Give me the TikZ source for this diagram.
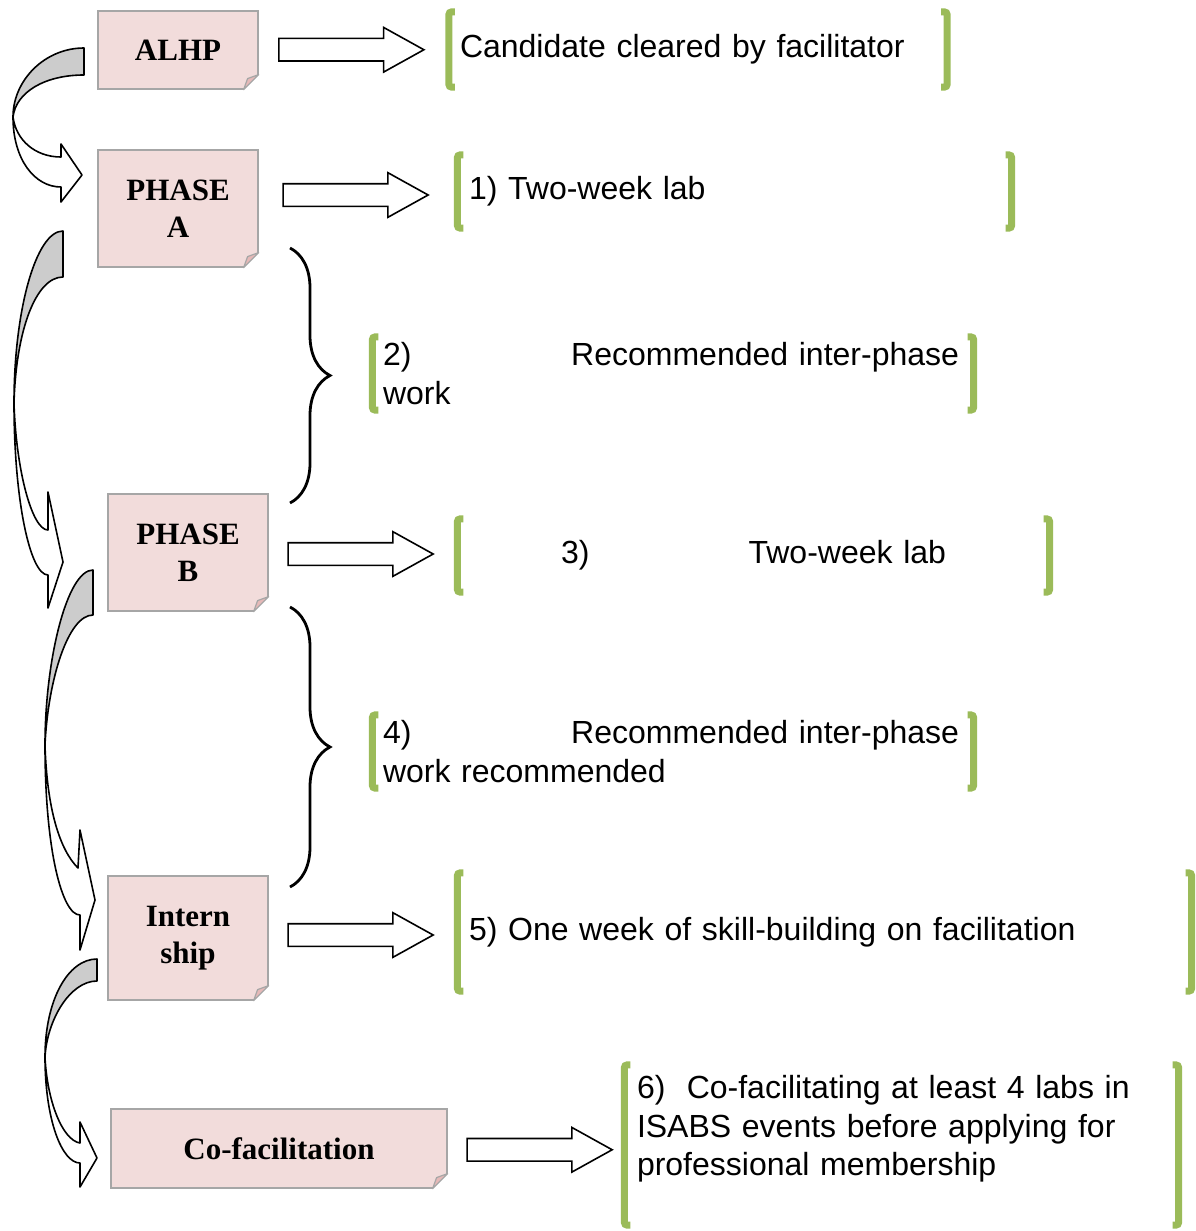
\documentclass[tikz,border=0pt]{standalone}
\usepackage{fontspec}
\newfontfamily\boxfont{Liberation Serif}
\newfontfamily\txtfont{Liberation Sans}
\usepackage{xcolor}
\usepackage{tikz}
\usetikzlibrary{
	shapes,arrows,decorations.pathreplacing
}

\definecolor{boxpink}{HTML}{F2DCDB}
\definecolor{foldpink}{HTML}{E6B9B8}
\definecolor{boxline}{HTML}{A6A6A6}
\definecolor{bracketgreen}{HTML}{9BBB59}
\definecolor{backgrey}{HTML}{CCCCCC}

% folded corner at the bottom right of a stage box
\newcommand{\foldcorner}[1]{%
	\fill[white] ([xshift=-17pt,yshift=-2pt]#1.south east) -- ([xshift=2pt,yshift=-2pt]#1.south east) -- ([xshift=2pt,yshift=17pt]#1.south east) -- cycle;
	\filldraw[fill=foldpink,draw=boxline,line width=1.2pt,line join=round] ([xshift=-15pt]#1.south east) -- ([yshift=15pt]#1.south east) -- ([xshift=-11pt,yshift=11pt]#1.south east) -- cycle;
}
% green brackets round a note
\newcommand{\greenbrackets}[1]{%
	\draw[bracketgreen,line width=7pt,rounded corners=3pt] ([xshift=6pt]#1.north west) -- (#1.north west) -- (#1.south west) -- ([xshift=6pt]#1.south west);
	\draw[bracketgreen,line width=7pt,rounded corners=3pt] ([xshift=-6pt]#1.north east) -- (#1.north east) -- (#1.south east) -- ([xshift=-6pt]#1.south east);
}

\begin{document}
\begin{tikzpicture}[x=1pt,y=-1pt,
	stage/.style={draw=boxline,line width=1.2pt,fill=boxpink,inner sep=0pt,align=center,font=\boxfont\bfseries\fontsize{31}{37}\selectfont},
	note/.style={inner ysep=0pt,align=left,font=\txtfont\fontsize{32}{38.5}\selectfont},
	hollow/.style={single arrow,draw,fill=white,line width=1.6pt,minimum height=145pt,inner xsep=0pt,inner ysep=10.5pt,single arrow head extend=11pt,single arrow tip angle=58,midway,xshift=-12.5pt},
	curvearrow/.style={draw,line width=1.6pt,line join=round},
	curly/.style={decorate,decoration={brace,amplitude=40pt},line width=2.8pt}]
		\useasboundingbox (0,0) rectangle (1196,1231);
		\node[stage,minimum width=160pt,minimum height=78pt] (alhp) at (178,50) {ALHP};
		\node[stage,minimum width=160pt,minimum height=117pt] (phaseA) at (178,208.5) {PHASE\\A};
		\node[stage,minimum width=160pt,minimum height=117pt] (phaseB) at (188,552.5) {PHASE\\B};
		\node[stage,minimum width=160pt,minimum height=124pt] (intern) at (188,938) {Intern\\ship};
		\node[stage,minimum width=336pt,minimum height=79pt] (cofac) at (279,1148.5) {Co-facilitation};
		\foreach \n in {alhp,phaseA,phaseB,intern,cofac} {\foldcorner{\n}}
		%
		\node[note,text width=476pt,inner xsep=11pt,minimum height=75pt] (cleared) at (698,49.5) {Candidate cleared by facilitator};
		\node[note,text width=531pt,inner xsep=11.5pt,minimum height=73pt] (labA) at (734.5,191.5) {1) Two-week lab};
		\node[note,text width=580pt,inner xsep=10.5pt,minimum height=73pt] (workA) at (673,373.5) {\makebox[576pt]{2)\hfill Recommended inter-phase}\\work};
		\node[note,text width=569pt,inner xsep=11.5pt,minimum height=73pt,align=center] (labB) at (753.5,555.5) {\makebox[385pt]{3)\hfill Two-week lab}};
		\node[note,text width=580pt,inner xsep=10.5pt,minimum height=73pt] (workB) at (673,751.5) {\makebox[576pt]{4)\hfill Recommended inter-phase}\\work recommended};
		\node[note,text width=711pt,inner xsep=11.5pt,minimum height=118pt] (skill) at (824.5,932) {5) One week of skill-building on facilitation};
		\node[note,text width=529pt,inner xsep=12.5pt,minimum height=160pt] (member) at (901.5,1145) {6)\ \ Co-facilitating at least 4 labs in\\ISABS events before applying for\\professional membership\\\mbox{}};
		\foreach \n in {cleared,labA,workA,labB,workB,skill,member} {\greenbrackets{\n}}
		%
		% hollow arrows
		\path (alhp.east) -- (cleared.west) node[hollow] (toCleared) {};
		\path (phaseA.east) -- (labA.west) node[hollow,yshift=5pt] (toLabA) {};
		\path (phaseB.east) -- (labB.west) node[hollow] (toLabB) {};
		\path (intern.east) -- (skill.west) node[hollow] (toSkill) {};
		\path (cofac.east) -- (member.west) node[hollow,xshift=6pt,yshift=-3pt] (toMember) {};
		% braces
		\draw[curly] (290,248) -- (290,503);
		\draw[curly] (290,607) -- (290,887);
		% curved arrows
		\draw[curvearrow,fill=backgrey] (84,48) .. controls (45,48) and (13,80) .. (13,117) .. controls (16,92) and (45,75) .. (84,75) -- cycle;
		\draw[curvearrow,fill=white] (13,117) .. controls (13,160) and (35,187) .. (61,187) -- (61,202) -- (82,175) -- (61,144) -- (61,157) .. controls (35,157) and (16,140) .. (13,117) -- cycle;
		\draw[curvearrow,fill=backgrey] (63,231) .. controls (36,231) and (14,310) .. (14,403) .. controls (16,330) and (36,277) .. (63,277) -- cycle;
		\draw[curvearrow,fill=white] (14,403) .. controls (14,500) and (30,575) .. (48,575) -- (48,608) -- (63,562) -- (48,492) -- (48,530) .. controls (32,530) and (16,470) .. (14,403) -- cycle;
		\draw[curvearrow,fill=backgrey] (93,570) .. controls (67,570) and (45,660) .. (45,745) .. controls (48,680) and (68,615) .. (93,615) -- cycle;
		\draw[curvearrow,fill=white] (45,745) .. controls (45,850) and (62,915) .. (80,915) -- (80,950) -- (95,900) -- (80,830) -- (78,868) .. controls (60,850) and (47,810) .. (45,745) -- cycle;
		\draw[curvearrow,fill=backgrey] (97,959) .. controls (68,959) and (45,1000) .. (45,1057) .. controls (47,1020) and (70,981) .. (97,981) -- cycle;
		\draw[curvearrow,fill=white] (45,1057) .. controls (45,1120) and (62,1163) .. (80,1163) -- (80,1187) -- (97,1158) -- (80,1122) -- (80,1143) .. controls (62,1140) and (47,1100) .. (45,1057) -- cycle;
	\end{tikzpicture}
\end{document}
